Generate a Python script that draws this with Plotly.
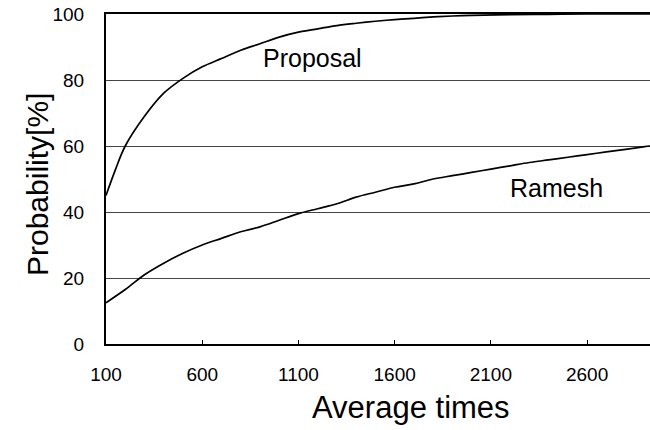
import plotly.graph_objects as go

x_proposal = [100, 150, 200, 300, 400, 500, 600, 700, 800, 900, 1000, 1100, 1200, 1300,
              1400, 1500, 1600, 1700, 1800, 1900, 2000, 2200, 2400, 2600, 2800, 3000]
y_proposal = [45, 53, 60, 69, 76, 80.5, 84, 86.5, 89, 91, 93, 94.5, 95.5, 96.5,
              97.2, 97.8, 98.3, 98.7, 99.1, 99.4, 99.6, 99.8, 99.9, 100, 100, 100]

x_ramesh = [100, 200, 300, 400, 500, 600, 700, 800, 900, 1000, 1100, 1200, 1300, 1400,
            1500, 1600, 1700, 1800, 1900, 2000, 2100, 2200, 2300, 2400, 2500, 2600,
            2700, 2800, 2900, 3000]
y_ramesh = [12.5, 16.5, 21, 24.5, 27.5, 30, 32, 34, 35.5, 37.5, 39.5, 41, 42.5, 44.5,
            46, 47.5, 48.5, 50, 51, 52, 53, 54, 55, 55.8, 56.6, 57.4,
            58.2, 59, 59.8, 60.5]

x_ticks = [100, 600, 1100, 1600, 2100, 2600]
y_ticks = [0, 20, 40, 60, 80, 100]

FONT = "Liberation Sans, Arial, sans-serif"

fig = go.Figure()
fig.add_trace(go.Scatter(x=x_proposal, y=y_proposal, mode="lines",
                         line=dict(color="black", width=1.7, shape="spline"),
                         showlegend=False, hoverinfo="skip"))
fig.add_trace(go.Scatter(x=x_ramesh, y=y_ramesh, mode="lines",
                         line=dict(color="black", width=1.7, shape="spline"),
                         showlegend=False, hoverinfo="skip"))

fig.add_annotation(x=1173, y=86.8, text="Proposal", showarrow=False,
                   font=dict(family=FONT, size=25, color="black"))
fig.add_annotation(x=2439, y=47.3, text="Ramesh", showarrow=False,
                   font=dict(family=FONT, size=25, color="black"))

# axis titles
fig.add_annotation(xref="paper", yref="paper", x=(411 - 106) / 544, y=-(407 - 344) / 330,
                   text="Average times", showarrow=False, xanchor="center", yanchor="middle",
                   font=dict(family=FONT, size=31, color="black"))
fig.add_annotation(xref="paper", yref="paper", x=-(106 - 37) / 544, y=(344 - 185) / 330,
                   text="Probability[%]", showarrow=False, textangle=-90,
                   xanchor="center", yanchor="middle",
                   font=dict(family=FONT, size=30, color="black"))

fig.update_layout(
    width=650, height=430,
    margin=dict(l=106, r=0, t=14, b=86),
    plot_bgcolor="white", paper_bgcolor="white",
    font=dict(family=FONT, color="black"),
    xaxis=dict(range=[100, 2927], tickvals=x_ticks, ticktext=[str(v) for v in x_ticks],
               showgrid=False, zeroline=False, showline=True, linecolor="black",
               linewidth=2, mirror=True, ticks="inside", ticklen=4, tickcolor="black",
               tickfont=dict(size=19), ticklabelstandoff=12, automargin=False),
    yaxis=dict(range=[0, 100], tickvals=y_ticks, ticktext=[str(v) for v in y_ticks],
               showgrid=True, gridcolor="#444444", gridwidth=1, zeroline=False,
               showline=True, linecolor="black", linewidth=2, ticks="",
               tickfont=dict(size=19), ticklabelstandoff=16, automargin=False),
)

fig.write_html(
    "out.html",
    config={"displayModeBar": False},
    post_script="document.body.style.margin='0';document.body.style.overflow='hidden';",
)
